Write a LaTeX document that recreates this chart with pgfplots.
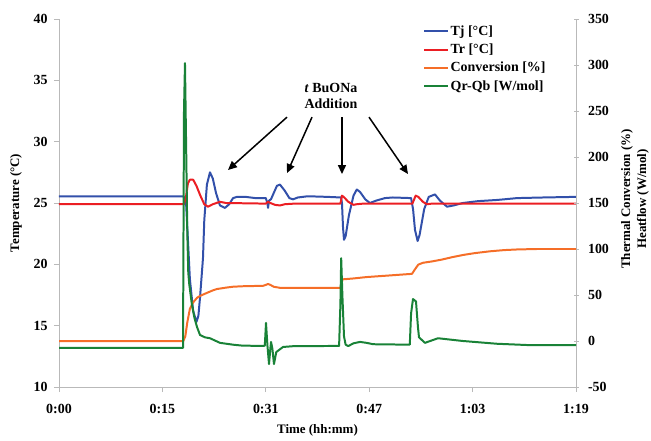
\documentclass[border=0pt]{standalone}
\usepackage{fontspec}
\setmainfont{Liberation Serif}
\usepackage{pgfplots}
\pgfplotsset{compat=1.18}
\usetikzlibrary{arrows.meta,calc}

\definecolor{tjblue}{RGB}{50,80,170}
\definecolor{trred}{RGB}{235,30,35}
\definecolor{convorange}{RGB}{245,110,40}
\definecolor{qgreen}{RGB}{25,130,55}

\newcommand{\chartfont}{\fontsize{13}{16}\selectfont\bfseries}
\newcommand{\tickfont}{\fontsize{14}{16}\selectfont\bfseries}

\begin{document}
\begin{tikzpicture}
\pgfplotsset{
  every axis/.append style={
    scale only axis, width=517bp, height=368bp,
    xmin=0, xmax=79,
    font=\chartfont,
    tick label style={font=\tickfont},
    /pgf/number format/assume math mode=true,
    axis line style={gray!55, line width=0.8pt},
    major tick style={gray!55, line width=0.8pt},
    major tick length=5bp,
  },
  curve/.style={line width=2pt, line join=round},
}

% left axis: temperatures
\begin{axis}[
  axis x line*=bottom, axis y line*=left,
  tick align=outside,
  ymin=10, ymax=40, ytick={10,15,...,40},
  xtick={0,15.8,31.6,47.4,63.2,79},
  xticklabels={0:00,0:15,0:31,0:47,1:03,1:19},
  xticklabel style={yshift=-9bp},
  yticklabel style={xshift=-3bp},
  xlabel={Time (hh:mm)},
  ylabel={Temperature (°C)},
  every axis x label/.style={at={(axis description cs:0.5,0)}, anchor=center, yshift=-43bp},
  every axis y label/.style={at={(axis description cs:0,0.5)}, xshift=-43bp, rotate=90, anchor=center},
  clip=false,
]
% Tj
\addplot[tjblue, curve] coordinates {
  (0,25.55)(19.0,25.55)(19.4,25.2)(19.7,22)(20.0,18.8)(20.5,16.2)(21.0,15.3)
  (21.3,15.8)(21.55,17.3)(22.0,20.5)(22.2,23.6)(22.6,26.5)(23.07,27.5)(23.5,27)
  (24.0,25.8)(24.6,24.8)(25.36,24.6)(26.0,24.9)(26.6,25.4)(27.2,25.5)(28.5,25.5)
  (30,25.4)(31.6,25.4)(31.85,25.0)(31.94,24.6)(32.1,25.2)(32.39,25.3)(32.8,25.8)
  (33.3,26.4)(33.77,26.5)(34.5,26)(35.2,25.4)(35.76,25.3)(36.5,25.45)(38,25.55)
  (41,25.5)(43.1,25.45)(43.24,25)(43.4,23)(43.55,22.0)(43.8,22.3)(44.3,24)
  (45.0,25.6)(45.5,26.1)(46,25.9)(46.8,25.3)(47.5,25.0)(48.5,25.2)(49.8,25.4)
  (51,25.45)(53.8,25.4)(54.1,24.5)(54.4,22.8)(54.8,21.9)(55.1,22.4)(55.8,24.5)
  (56.5,25.5)(57.45,25.7)(58.2,25.2)(59.29,24.7)(60.3,24.8)(61.7,25.0)(64,25.15)
  (67,25.25)(70,25.4)(74,25.45)(79,25.5)
};
% Tr
\addplot[trred, curve] coordinates {
  (0,24.9)(19.1,24.9)(19.4,25.5)(19.7,26.6)(20.0,26.9)(20.5,26.9)(21.0,26.4)
  (21.6,25.6)(22.2,24.9)(22.77,24.7)(23.5,24.9)(24.6,25.1)(25.5,25.0)(31.6,24.95)
  (31.94,25.1)(32.3,25.0)(33.0,24.85)(33.77,24.8)(34.5,24.9)(36,24.95)(43.0,24.95)
  (43.24,25.6)(43.5,25.5)(44.2,25.1)(45.0,24.85)(45.5,24.9)(46.5,24.95)(54.0,24.95)
  (54.5,25.6)(54.9,25.5)(55.6,25.1)(56.2,24.9)(57,24.95)(79,24.95)
};
% annotation
\node[align=center, font=\tickfont] at (axis cs:41.56,33.72) {\textit{t} BuONa\\Addition};
\begin{scope}[-{Triangle[length=9bp,width=8bp]}, line width=1.5pt, black]
  \draw (axis cs:34.84,32.0) -- (axis cs:25.82,27.69);
  \draw (axis cs:38.66,32.0) -- (axis cs:34.84,27.44);
  \draw (axis cs:43.24,32.0) -- (axis cs:43.24,27.36);
  \draw (axis cs:47.37,32.0) -- (axis cs:53.33,27.36);
\end{scope}
\end{axis}

% right axis: conversion and heat flow
\begin{axis}[
  axis x line=none, axis y line*=right,
  tick align=center,
  ymin=-50, ymax=350, ytick={-50,0,...,350},
  yticklabel style={xshift=6bp},
  ylabel={Thermal Conversion (\%)\\Heatflow (W/mol)},
  every axis y label/.style={at={(axis description cs:1,0.5)}, xshift=59bp, yshift=4bp, rotate=90, anchor=center, align=center},
  legend style={at={(axis description cs:0.704,0.986)}, anchor=north west,
    draw=none, fill=none, font=\tickfont, row sep=4bp, inner sep=0pt,
    nodes={inner sep=1.5bp}},
  legend cell align=left,
  legend image code/.code={\draw[#1] (0bp,0bp) -- (24bp,0bp);},
]
\addlegendimage{tjblue, curve}
\addlegendentry{Tj [°C]}
\addlegendimage{trred, curve}
\addlegendentry{Tr [°C]}
% conversion
\addplot[convorange, curve] coordinates {
  (0,0)(19.0,0)(19.3,5)(19.6,20)(20.0,35)(20.5,42)(21.1,47)(21.55,49)(22.5,52)
  (23.5,55)(24.14,56.5)(25.5,58)(26.6,59)(28,59.5)(31.17,60)(31.6,61)(31.94,62)
  (32.3,61)(32.8,59)(33.77,57.8)(36,57.8)(43.0,57.8)(43.15,60)(43.3,67)(45,68)
  (47,69.5)(50,71)(53.94,73)(54.4,78)(54.9,83)(55.6,85)(57,86.5)(58.5,88.5)
  (60,91)(61.73,93.5)(63.5,95.5)(65.86,97.5)(68,98.8)(70,99.5)(73,100)(79,100)
};
\addlegendentry{Conversion [\%]}
% heat flow
\addplot[qgreen, curve] coordinates {
  (0,-7.5)(18.95,-7.5)(19.1,250)(19.25,302)(19.45,200)(19.6,120)(19.75,75)
  (19.9,62)(20.3,40)(20.7,25)(21.1,15)(21.55,6.5)(22.3,4)(23.07,3)(24.6,-2)
  (26.6,-4)(28,-5)(31.2,-5.4)(31.45,-5)(31.63,19.6)(31.85,-5)(32.09,-25)(32.3,-8)
  (32.4,-1)(32.6,-8)(32.85,-25)(33.2,-12)(34.23,-6.5)(36,-5.5)(42.8,-5.4)(43.0,40)
  (43.12,90)(43.3,50)(43.55,5)(43.8,-4)(44.2,-5.5)(45,-2.5)(46,-1)(47,-2)(48,-3.5)
  (53.6,-4)(53.8,30)(54.09,45.6)(54.55,43)(54.85,15)(55.01,4)(55.92,-2)(57.91,3)
  (61.73,0)(66.93,-3)(71.97,-4.5)(79,-4.5)
};
\addlegendentry{Qr-Qb [W/mol]}
\end{axis}

\pgfresetboundingbox
\path ($(current axis.south west)+(-59bp,-53bp)$) rectangle ($(current axis.north east)+(75bp,19bp)$);
\end{tikzpicture}
\end{document}
